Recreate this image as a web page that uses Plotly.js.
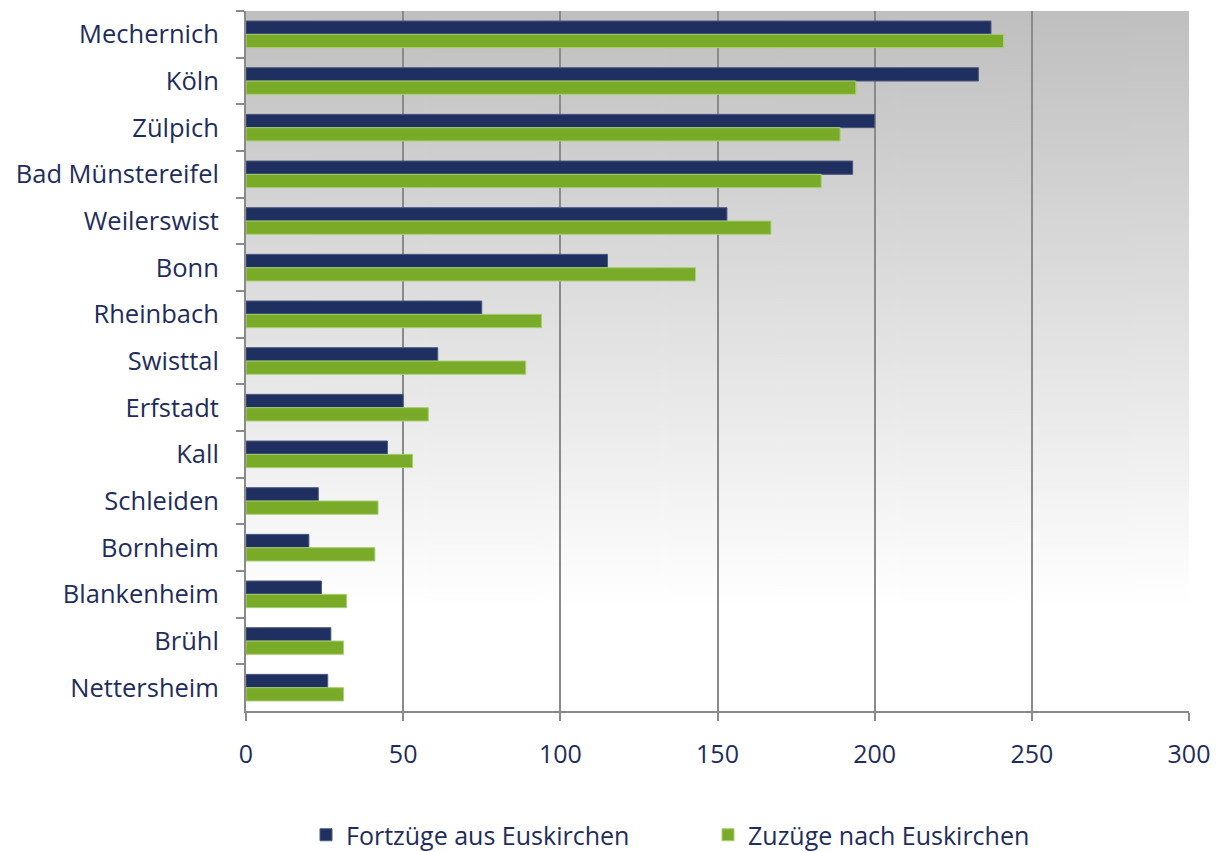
<!DOCTYPE html>
<html>
<head>
<meta charset="utf-8">
<script src="https://cdn.plot.ly/plotly-3.0.1.min.js"></script>
<style>html,body{margin:0;padding:0;background:#fff;}#chart{width:1216px;height:852px;}</style>
</head>
<body>
<div id="chart"></div>
<script>
const categories = ["Mechernich","Köln","Zülpich","Bad Münstereifel","Weilerswist","Bonn","Rheinbach","Swisttal","Erfstadt","Kall","Schleiden","Bornheim","Blankenheim","Brühl","Nettersheim"];
const fortzuege = [237,233,200,193,153,115,75,61,50,45,23,20,24,27,26];
const zuzuege = [241,194,189,183,167,143,94,89,58,53,42,41,32,31,31];
const xTicks = [0,50,100,150,200,250,300];
const seriesNames = ["Fortzüge aus Euskirchen","Zuzüge nach Euskirchen"];

// background gradient image
const cv = document.createElement('canvas');
cv.width = 8; cv.height = 700;
const ctx = cv.getContext('2d');
const g = ctx.createLinearGradient(0,0,0,700);
g.addColorStop(0,'#bfbfbf');
g.addColorStop(0.85,'#ffffff');
g.addColorStop(1,'#ffffff');
ctx.fillStyle = g; ctx.fillRect(0,0,8,700);
const bg = cv.toDataURL('image/png');

const textColor = '#1f2d5c';
const font = {family:'"Open Sans", sans-serif', size:25, color:textColor};
const tickFontY = {family:'"Open Sans", sans-serif', size:25.5, color:textColor};

const traces = [
  {type:'bar', orientation:'h', name:seriesNames[0], y:categories, x:fortzuege,
   marker:{color:'#1f3060', line:{color:'#4d5a80', width:1}}},
  {type:'bar', orientation:'h', name:seriesNames[1], y:categories, x:zuzuege,
   marker:{color:'#7aab28', line:{color:'#a8cf72', width:1}}}
];

const layout = {
  width:1216, height:852,
  margin:{l:246, r:27, t:11, b:141, autoexpand:false},
  paper_bgcolor:'#ffffff',
  plot_bgcolor:'rgba(0,0,0,0)',
  font:font,
  barmode:'group', bargap:0.43, bargroupgap:0,
  showlegend:true,
  legend:{orientation:'h', xref:'container', x:306/1216, xanchor:'left',
          yref:'container', y:(852-835)/852, yanchor:'middle',
          font:font, entrywidth:357, entrywidthmode:'pixels', bgcolor:'rgba(0,0,0,0)'},
  xaxis:{range:[0,300], tickvals:xTicks, ticktext:xTicks.map(String),
         showgrid:true, gridcolor:'#8a8a8a', gridwidth:2,
         zeroline:false, showline:true, linecolor:'#8a8a8a', linewidth:2,
         ticks:'outside', ticklen:8, tickwidth:2, tickcolor:'#8a8a8a',
         ticklabelstandoff:12, tickfont:font, fixedrange:true},
  yaxis:{type:'category', autorange:'reversed', showgrid:false, zeroline:false,
         showline:true, linecolor:'#8a8a8a', linewidth:2,
         ticks:'outside', ticklen:8, tickwidth:2, tickcolor:'#8a8a8a', tickson:'boundaries',
         ticklabelstandoff:20, tickfont:tickFontY, fixedrange:true},
  images:[{source:bg, xref:'paper', yref:'paper', x:0, y:1, sizex:1, sizey:1,
           sizing:'stretch', xanchor:'left', yanchor:'top', layer:'below'}]
};

Plotly.newPlot('chart', traces, layout, {displayModeBar:false, staticPlot:true});
</script>
</body>
</html>
